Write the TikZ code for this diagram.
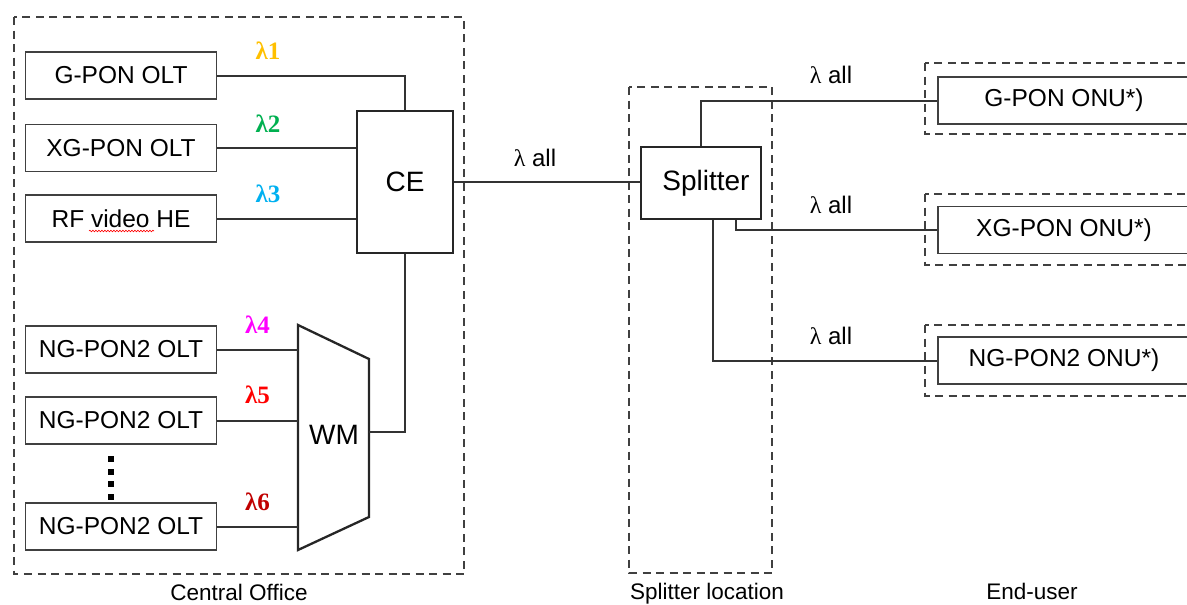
\documentclass[tikz,border=0pt]{standalone}
\usepackage{fontspec}
\setmainfont{Liberation Sans}
\newfontfamily\lamfont{Liberation Serif}
\usetikzlibrary{positioning, decorations.pathmorphing}

\definecolor{lamA}{HTML}{FFC000}
\definecolor{lamB}{HTML}{00B050}
\definecolor{lamC}{HTML}{00B0F0}
\definecolor{lamD}{HTML}{FF00FF}
\definecolor{lamE}{HTML}{FF0000}
\definecolor{lamF}{HTML}{C00000}

\begin{document}
\begin{tikzpicture}[x=1pt, y=-1pt,
    olt/.style={rectangle, draw=black!75, line width=1.8pt, minimum width=191pt, minimum height=47pt, inner sep=0pt, font=\fontsize{24.5}{29}\selectfont},
    onu/.style={olt, minimum width=252pt},
    unit/.style={rectangle, draw=black!85, line width=2.3pt, inner sep=0pt, font=\fontsize{28}{33}\selectfont},
    area/.style={draw=black!75, line width=2.2pt, dash pattern=on 8pt off 5.5pt},
    fibre/.style={draw=black!80, line width=2pt},
    lam/.style={font=\lamfont\bfseries\fontsize{25}{29}\selectfont},
    lamall/.style={font=\fontsize{24}{28}\selectfont},
    place/.style={font=\fontsize{22.5}{27}\selectfont, anchor=base}
]
\useasboundingbox (0,0) rectangle (1187,605);

% dashed areas
\draw[area] (14,17) rectangle (464,574);
\draw[area] (629,87) rectangle (772,573);
\foreach \y in {63,194,325}
    \draw[area] (925,\y) rectangle (1200,\y+71);

% central office
\node[olt] (golt) at (121,75.5) {G-PON OLT};
\node[olt] (xgolt) at (121,148) {XG-PON OLT};
\node[olt] (rfhe) at (121,218.5) {RF video HE};
\node[olt] (ngolt1) at (121,349.5) {NG-PON2 OLT};
\node[olt] (ngolt2) at (121,420.5) {NG-PON2 OLT};
\node[olt] (ngolt3) at (121,526.5) {NG-PON2 OLT};
\draw[red, line width=0.6pt, decorate, decoration={snake, amplitude=0.8pt, segment length=3pt}] (89,231) -- (154,231);
\foreach \k in {0,...,3}
    \fill (108,456+12.7*\k) rectangle ++(6,6);

\node[unit, minimum width=96pt, minimum height=142pt] (ce) at (405,182) {CE};
\draw[line width=2.3pt, draw=black!85] (298,325) coordinate (wmtl) -- (369,359) -- (369,517) -- (298,550) -- cycle;
\node[font=\fontsize{28}{33}\selectfont] (wm) at (334,435) {WM};
\coordinate (wmout) at (369,432);

% splitter and end-users
\node[unit, minimum width=120pt, minimum height=72pt] (spl) at (701,183) {\hspace{10pt}Splitter};
\node[onu] (gonu) at (1064,100.5) {G-PON ONU*)};
\node[onu] (xgonu) at (1064,230) {XG-PON ONU*)};
\node[onu] (ngonu) at (1064,360.5) {NG-PON2 ONU*)};

% fibres
\draw[fibre] (golt.east) -| (ce.north);
\draw[fibre] (xgolt.east) -- (xgolt.east -| ce.west);
\draw[fibre] (rfhe.east) -- (rfhe.east -| ce.west);
\draw[fibre] (ngolt1.east) -- (ngolt1.east -| wmtl);
\draw[fibre] (ngolt2.east) -- (ngolt2.east -| wmtl);
\draw[fibre] (ngolt3.east) -- (ngolt3.east -| wmtl);
\draw[fibre] (ce.south) |- (wmout);
\draw[fibre] (ce.east) -- (ce.east -| spl.west);
\draw[fibre] (spl.north) |- (gonu.west);
\draw[fibre] ([xshift=35pt]spl.south) |- (xgonu.west);
\draw[fibre] ([xshift=12pt]spl.south) |- (ngonu.west);

% wavelengths
\node[lam, text=lamA] (l1) at (268,51) {λ1};
\node[lam, text=lamB] (l2) at (268,123.5) {λ2};
\node[lam, text=lamC] (l3) at (268,193.5) {λ3};
\node[lam, text=lamD] (l4) at (257.5,325) {λ4};
\node[lam, text=lamE] (l5) at (257.5,395) {λ5};
\node[lam, text=lamF] (l6) at (257.5,502) {λ6};
\node[lamall] (la0) at (535,158) {{\lamfont λ} all};
\node[lamall] (la1) at (831,75) {{\lamfont λ} all};
\node[lamall] (la2) at (831,205) {{\lamfont λ} all};
\node[lamall] (la3) at (831,336) {{\lamfont λ} all};

% places
\node[place] (co) at (239,600) {Central Office};
\node[place] (sl) at (707,599) {Splitter location};
\node[place] (eu) at (1032,599) {End-user};
\end{tikzpicture}
\end{document}
